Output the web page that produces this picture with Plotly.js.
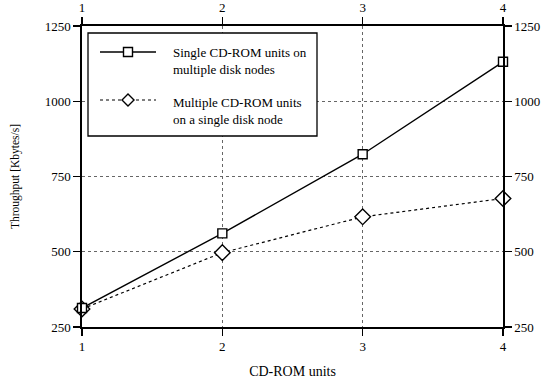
<!DOCTYPE html>
<html><head><meta charset="utf-8">
<script src="https://cdn.plot.ly/plotly-3.0.1.min.js"></script>
<style>html,body{margin:0;padding:0;background:#fff}</style>
</head><body>
<div id="chart" style="width:543px;height:383px"></div>
<script>
const units = [1, 2, 3, 4];
const singleUnitsMultiNodes = [313, 561, 824, 1131];
const multiUnitsSingleNode = [310, 497, 616, 677];
const seriesNames = ['Single CD-ROM units on<br>multiple disk nodes', 'Multiple CD-ROM units<br>on a single disk node'];
const yTicks = [250, 500, 750, 1000, 1250];

const FAM = 'Liberation Serif';
const mkFont = (s) => ({family: FAM, size: s, color: '#000000'});
const traces = [
  {x: units, y: multiUnitsSingleNode, name: seriesNames[1], mode: 'lines+markers', cliponaxis: false, showlegend: false,
   line: {color: '#000', width: 1.2, dash: 'dot'}, marker: {symbol: 'diamond', size: 12, color: '#fff', line: {color: '#000', width: 1.4}}},
  {x: units, y: singleUnitsMultiNodes, name: seriesNames[0], mode: 'lines+markers', cliponaxis: false, showlegend: false,
   line: {color: '#000', width: 1.4}, marker: {symbol: 'square', size: 9, color: '#fff', line: {color: '#000', width: 1.4}}},
  {x: units, y: multiUnitsSingleNode, xaxis: 'x2', yaxis: 'y2', mode: 'markers', showlegend: false,
   hoverinfo: 'skip', marker: {opacity: 0}}
];

// manual legend (paper coords; plot area 421 x 301 px)
const px = v => (v - 82) / 421;
const py = v => (327 - v) / 301;
const shapes = [
  {type: 'rect', xref: 'paper', yref: 'paper', x0: px(88), x1: px(317), y0: py(136), y1: py(33),
   line: {color: '#000', width: 1.3}, fillcolor: '#fff', layer: 'above'},
  {type: 'line', xref: 'paper', yref: 'paper', x0: px(100), x1: px(156), y0: py(52), y1: py(52),
   line: {color: '#000', width: 1.4}, layer: 'above'},
  {type: 'rect', xref: 'paper', yref: 'paper', xsizemode: 'pixel', ysizemode: 'pixel', xanchor: px(128), yanchor: py(52),
   x0: -4.5, x1: 4.5, y0: -4.5, y1: 4.5, line: {color: '#000', width: 1.4}, fillcolor: '#fff', layer: 'above'},
  {type: 'line', xref: 'paper', yref: 'paper', x0: px(100), x1: px(156), y0: py(100), y1: py(100),
   line: {color: '#000', width: 1.2, dash: 'dot'}, layer: 'above'},
  {type: 'path', xref: 'paper', yref: 'paper', xsizemode: 'pixel', ysizemode: 'pixel', xanchor: px(128), yanchor: py(100),
   path: 'M -6 0 L 0 6 L 6 0 L 0 -6 Z', line: {color: '#000', width: 1.4}, fillcolor: '#fff', layer: 'above'}
];
const annotations = [
  {xref: 'paper', yref: 'paper', x: px(171), y: py(61), xanchor: 'left', yanchor: 'middle', align: 'left',
   showarrow: false, text: seriesNames[0], font: mkFont(13)},
  {xref: 'paper', yref: 'paper', x: px(171), y: py(111), xanchor: 'left', yanchor: 'middle', align: 'left',
   showarrow: false, text: seriesNames[1], font: mkFont(13)}
];

const ax = (extra) => Object.assign({showline: true, linecolor: '#000', linewidth: 1.6, ticks: 'outside', ticklen: 7, tickwidth: 1.3,
  tickcolor: '#000', zeroline: false, tickfont: mkFont(13), automargin: false, color: '#000'}, extra);
const layout = {
  width: 543, height: 383,
  margin: {l: 82, r: 40, t: 26, b: 56},
  paper_bgcolor: '#fff', plot_bgcolor: '#fff',
  font: mkFont(13),
  showlegend: false,
  shapes: shapes,
  annotations: annotations,
  xaxis: ax({range: [1, 4], tickvals: units, showgrid: true, gridcolor: '#666', griddash: 'dot', gridwidth: 1,
    title: {text: 'CD-ROM units', font: mkFont(14), standoff: 13}}),
  yaxis: ax({range: [250, 1250], tickvals: yTicks, showgrid: true, gridcolor: '#666', griddash: 'dot', gridwidth: 1,
    title: {text: 'Throughput [Kbytes/s]', font: mkFont(11.5), standoff: 23}}),
  xaxis2: ax({range: [1, 4], tickvals: units, overlaying: 'x', side: 'top', showgrid: false}),
  yaxis2: ax({range: [250, 1250], tickvals: yTicks, overlaying: 'y', side: 'right', showgrid: false})
};
Plotly.newPlot('chart', traces, layout, {staticPlot: true});
</script>
</body></html>
